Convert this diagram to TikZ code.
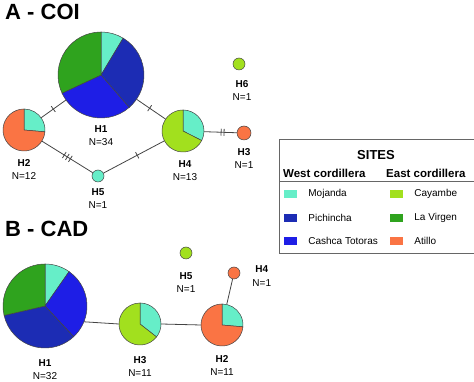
\documentclass[tikz,border=0pt]{standalone}
\usepackage{fontspec}
\setmainfont{Liberation Sans}
\usetikzlibrary{positioning,decorations.markings}

\definecolor{mojanda}{HTML}{66EEC8}
\definecolor{pichincha}{HTML}{1C2CB4}
\definecolor{cashca}{HTML}{1E1EE6}
\definecolor{cayambe}{HTML}{A2E01E}
\definecolor{virgen}{HTML}{2FA31E}
\definecolor{atillo}{HTML}{FA7444}
\definecolor{edgegray}{HTML}{444444}

\begin{document}
\begin{tikzpicture}[x=1pt,y=1pt,
	hap/.style={circle, inner sep=0pt, minimum size=#1},
	dot/.style={circle, inner sep=0pt, minimum size=12pt, draw=edgegray, line width=0.5pt},
	slice/.style={draw=edgegray, line width=0.5pt},
	edge/.style={draw=edgegray, line width=0.8pt},
	mut/.style={postaction={decorate, decoration={markings,
		mark=at position #1 with {\draw[edgegray, line width=0.8pt] (0,-3.5pt) -- (0,3.5pt);}}}},
	lbl/.style={align=center, inner sep=0pt, font=\fontsize{10}{13.5}\selectfont},
	swatch/.style={minimum width=13pt, minimum height=8pt, inner sep=0pt},
	item/.style={inner sep=0pt, anchor=west, font=\fontsize{10}{12}\selectfont}]
				\useasboundingbox (0,0) rectangle (474,382);
				
				\node[anchor=base west, inner sep=0pt, font=\fontsize{22}{26}\selectfont\bfseries] at (5,362) {A - COI};
				\node[anchor=base west, inner sep=0pt, font=\fontsize{22}{26}\selectfont\bfseries] at (5,145) {B - CAD};
				
				% A - COI
				\node[hap=86pt] (h1a) at (101,307) {};
				\node[hap=42pt] (h2a) at (24,252) {};
				\node[hap=42pt] (h4a) at (183,251) {};
				\node[dot, fill=mojanda] (h5a) at (98,206) {};
				\node[dot, fill=atillo, minimum size=14pt] (h3a) at (244,249) {};
				\node[dot, fill=cayambe] (h6a) at (239,318) {};
				
				\draw[edge, mut=0.49] (h2a) -- (h1a);
				\draw[edge, mut=0.45] (h1a) -- (h4a);
				\draw[edge, mut=0.44, mut=0.5, mut=0.56] (h2a) -- (h5a);
				\draw[edge, mut=0.555] (h5a) -- (h4a);
				\draw[edge, mut=0.52, mut=0.61] (h4a) -- (h3a);
				
				\filldraw[slice, fill=mojanda] (h1a.center) -- ++(90:43) arc[start angle=90, end angle=59, radius=43] -- cycle;
				\filldraw[slice, fill=pichincha] (h1a.center) -- ++(59:43) arc[start angle=59, end angle=-49, radius=43] -- cycle;
				\filldraw[slice, fill=cashca] (h1a.center) -- ++(-49:43) arc[start angle=-49, end angle=-155, radius=43] -- cycle;
				\filldraw[slice, fill=virgen] (h1a.center) -- ++(205:43) arc[start angle=205, end angle=90, radius=43] -- cycle;
				
				\filldraw[slice, fill=mojanda] (h2a.center) -- ++(90:21) arc[start angle=90, end angle=-5, radius=21] -- cycle;
				\filldraw[slice, fill=atillo] (h2a.center) -- ++(-5:21) arc[start angle=-5, end angle=-270, radius=21] -- cycle;
				
				\filldraw[slice, fill=mojanda] (h4a.center) -- ++(90:21) arc[start angle=90, end angle=-27, radius=21] -- cycle;
				\filldraw[slice, fill=cayambe] (h4a.center) -- ++(-27:21) arc[start angle=-27, end angle=-270, radius=21] -- cycle;
				
				\node[lbl, below=7pt of h1a] {\textbf{H1}\\N=34};
				\node[lbl, below=8pt of h2a] {\textbf{H2}\\N=12};
				\node[lbl, below=8pt of h4a, xshift=2pt] {\textbf{H4}\\N=13};
				\node[lbl, below=6pt of h5a] {\textbf{H5}\\N=1};
				\node[lbl, below=8pt of h3a] {\textbf{H3}\\N=1};
				\node[lbl, below=10pt of h6a, xshift=3pt] {\textbf{H6}\\N=1};
				
				% legend
				\draw[black!60, line width=1pt] (476,242) -- (279,242) -- (279,128) -- (476,128);
				\draw[black!60, line width=1pt] (279,200) -- (476,200);
				\node[inner sep=0pt, font=\fontsize{13}{15}\selectfont\bfseries] (sites) at (376,227) {SITES};
				\node[inner sep=0pt, anchor=west, font=\fontsize{11.5}{13}\selectfont\bfseries] (west) at (283,209) {West cordillera};
				\node[inner sep=0pt, anchor=west, font=\fontsize{11.5}{13}\selectfont\bfseries] (east) at (386,209) {East cordillera};
				
				\node[swatch, fill=mojanda] (sw1) at (290.5,188) {};
				\node[swatch, fill=pichincha] (sw2) at (290.5,164) {};
				\node[swatch, fill=cashca] (sw3) at (290.5,141) {};
				\node[swatch, fill=cayambe] (sw4) at (396.5,188) {};
				\node[swatch, fill=virgen] (sw5) at (396.5,164) {};
				\node[swatch, fill=atillo] (sw6) at (396.5,141) {};
				\node[item, right=11pt of sw1] {Mojanda};
				\node[item, right=11pt of sw2] {Pichincha};
				\node[item, right=11pt of sw3] {Cashca Totoras};
				\node[item, right=11pt of sw4] {Cayambe};
				\node[item, right=11pt of sw5] {La Virgen};
				\node[item, right=11pt of sw6] {Atillo};
				
				% B - CAD
				\node[hap=84pt] (h1b) at (45,76) {};
				\node[hap=42pt] (h3b) at (140,58) {};
				\node[hap=42pt] (h2b) at (222,57) {};
				\node[dot, fill=atillo] (h4b) at (234,109) {};
				\node[dot, fill=cayambe] (h5b) at (186,129) {};
				
				\draw[edge] (h1b.-22) -- (h3b.west);
				\draw[edge] (h3b.east) -- (h2b.west);
				\draw[edge] (h2b) -- (h4b);
				
				\filldraw[slice, fill=mojanda] (h1b.center) -- ++(90:42) arc[start angle=90, end angle=55, radius=42] -- cycle;
				\filldraw[slice, fill=cashca] (h1b.center) -- ++(55:42) arc[start angle=55, end angle=-47, radius=42] -- cycle;
				\filldraw[slice, fill=pichincha] (h1b.center) -- ++(-47:42) arc[start angle=-47, end angle=-167, radius=42] -- cycle;
				\filldraw[slice, fill=virgen] (h1b.center) -- ++(193:42) arc[start angle=193, end angle=90, radius=42] -- cycle;
				
				\filldraw[slice, fill=mojanda] (h3b.center) -- ++(90:21) arc[start angle=90, end angle=-38, radius=21] -- cycle;
				\filldraw[slice, fill=cayambe] (h3b.center) -- ++(-38:21) arc[start angle=-38, end angle=-270, radius=21] -- cycle;
				
				\filldraw[slice, fill=mojanda] (h2b.center) -- ++(90:21) arc[start angle=90, end angle=-5, radius=21] -- cycle;
				\filldraw[slice, fill=atillo] (h2b.center) -- ++(-5:21) arc[start angle=-5, end angle=-270, radius=21] -- cycle;
				
				\node[lbl, below=11pt of h1b] {\textbf{H1}\\N=32};
				\node[lbl, below=11pt of h3b] {\textbf{H3}\\N=11};
				\node[lbl, below=9pt of h2b] {\textbf{H2}\\N=11};
				\node[lbl, below=13pt of h5b] {\textbf{H5}\\N=1};
				\node[lbl, right=12pt of h4b, yshift=-3pt] {\textbf{H4}\\N=1};
\end{tikzpicture}
\end{document}
